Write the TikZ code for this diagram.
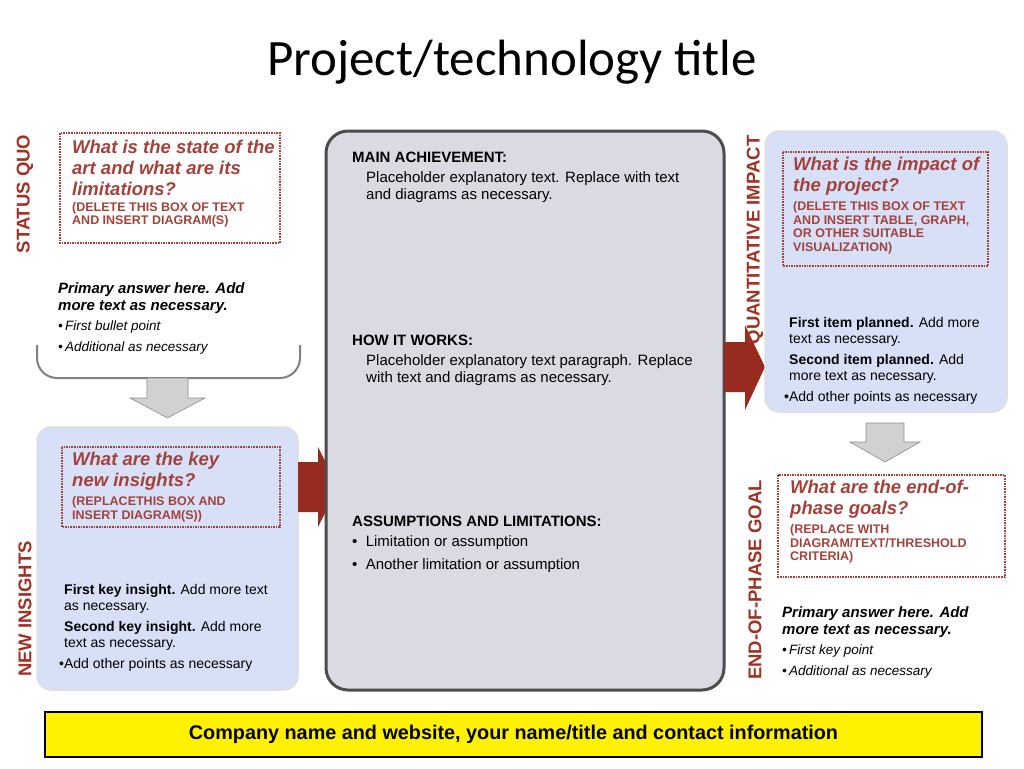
\documentclass[tikz,border=0pt]{standalone}
\usepackage{fontspec}
\setmainfont{Liberation Sans}
\newfontfamily\titlefont{Carlito}
\usetikzlibrary{positioning}
\definecolor{qred}{HTML}{A3423B}
\definecolor{lblred}{HTML}{9E3324}
\definecolor{arrred}{HTML}{972B20}
\definecolor{panelblue}{HTML}{D8E0F8}
\definecolor{panelgray}{HTML}{DADAE3}
\tikzset{
  panel/.style={draw=black!12, line width=1.5pt, fill=panelblue, rounded corners=14pt},
  qbox/.style={draw=qred, densely dotted, line width=1.6pt},
  sidelabel/.style={rotate=90, text=lblred, font=\fontsize{18.5}{20}\selectfont\bfseries},
  qtext/.style={anchor=north west, align=left, text=qred, inner sep=0pt, font=\fontsize{18.5}{21}\selectfont\bfseries\itshape},
  qnote/.style={anchor=north west, align=left, text=qred, inner sep=0pt, font=\fontsize{12.5}{13.5}\selectfont\bfseries},
  bodytext/.style={anchor=north west, align=left, inner sep=0pt, font=\fontsize{15}{17}\selectfont},
  grayarrow/.style={fill=black!18, draw=black!45, line width=0.6pt},
  redarrow/.style={fill=arrred, draw=none}
}
\begin{document}
\begin{tikzpicture}[x=1pt,y=-1pt]
  \useasboundingbox (0,0) rectangle (1024,768);

  % title
  \node[font=\titlefont\fontsize{51}{55}\selectfont] (title) at (512,62) {Project/technology title};

  % --- left column ---
  \node[sidelabel] (sq) at (25,194) {STATUS QUO};
  \draw[qbox] (60,133) rectangle (280,243);
  \node[qtext] (sqq) at (72,140) {What is the state of the\\art and what are its\\limitations?};
  \node[qnote, below=6pt of sqq.south west, anchor=north west] (sqn) {(DELETE THIS BOX OF TEXT\\AND INSERT DIAGRAM(S)};
  \draw[black!50, line width=2pt, rounded corners=20pt] (37,345) -- (37,378) -- (300,378) -- (300,345);
  \node[bodytext, font=\fontsize{15}{17}\selectfont\bfseries\itshape] (sqa) at (58,282) {Primary answer here. Add\\more text as necessary.};
  \node[bodytext, font=\fontsize{13.5}{21}\selectfont\itshape] (sqb) at (58,321) {\textbullet\,First bullet point\\\textbullet\,Additional as necessary};
  \draw[grayarrow] (147,378) -- (188,378) -- (188,398) -- (205,398) -- (167.5,418) -- (130,398) -- (147,398) -- cycle;

  \draw[panel] (37,427) rectangle (298,690);
  \node[sidelabel] (ni) at (25,609) {NEW INSIGHTS};
  \draw[qbox] (62,447) rectangle (280,527);
  \node[qtext] (niq) at (72,452) {What are the key\\new insights?};
  \node[qnote, below=6pt of niq.south west, anchor=north west] (nin) {(REPLACETHIS BOX AND\\INSERT DIAGRAM(S))};
  \node[bodytext, font=\fontsize{14}{16}\selectfont] (nib) at (64,584) {\textbf{First key insight.} Add more text\\as necessary.\\[5pt]\textbf{Second key insight.} Add more\\text as necessary.\\[5pt]\hspace*{-5pt}\textbullet Add other points as necessary};
  \draw[redarrow] (298,462) -- (318,462) -- (318,447) -- (338,487) -- (318,527) -- (318,512) -- (298,512) -- cycle;

  % --- centre ---
  \draw[draw=black!70, line width=3pt, fill=panelgray, rounded corners=22pt] (326,131) rectangle (724,690);
  \node[bodytext, font=\fontsize{15}{17}\selectfont\bfseries] (ach) at (352,152) {MAIN ACHIEVEMENT:};
  \node[bodytext, below right=8pt and 14pt of ach.south west, anchor=north west] (acht) {Placeholder explanatory text. Replace with text\\and diagrams as necessary.};
  \node[bodytext, font=\fontsize{15}{17}\selectfont\bfseries] (how) at (352,335) {HOW IT WORKS:};
  \node[bodytext, below right=8pt and 14pt of how.south west, anchor=north west] (howt) {Placeholder explanatory text paragraph. Replace\\with text and diagrams as necessary.};
  \node[bodytext, font=\fontsize{15}{17}\selectfont\bfseries] (asm) at (352,516) {ASSUMPTIONS AND LIMITATIONS:};
  \node[bodytext, font=\fontsize{15}{23}\selectfont, below=8pt of asm.south west, anchor=north west] (asmt) {\textbullet\ \ Limitation or assumption\\\textbullet\ \ Another limitation or assumption};

  % --- right column ---
  \draw[redarrow] (724,342) -- (745,342) -- (745,325) -- (765,367) -- (745,410) -- (745,392) -- (724,392) -- cycle;
  \draw[panel] (765,131) rectangle (1007,412);
  \node[sidelabel] (qi) at (755,240) {QUANTITATIVE IMPACT};
  \draw[qbox] (783,152) rectangle (988,266);
  \node[qtext] (qiq) at (793,157) {What is the impact of\\the project?};
  \node[qnote, below=6pt of qiq.south west, anchor=north west] (qin) {(DELETE THIS BOX OF TEXT\\AND INSERT TABLE, GRAPH,\\OR OTHER SUITABLE\\VISUALIZATION)};
  \node[bodytext, font=\fontsize{14}{16}\selectfont] (qib) at (789,317) {\textbf{First item planned.} Add more\\text as necessary.\\[5pt]\textbf{Second item planned.} Add\\more text as necessary.\\[5pt]\hspace*{-5pt}\textbullet Add other points as necessary};
  \draw[grayarrow] (866,423) -- (904,423) -- (904,442) -- (920,442) -- (885,462) -- (850,442) -- (866,442) -- cycle;

  \node[sidelabel] (eg) at (755,580) {END-OF-PHASE GOAL};
  \draw[qbox] (778,475) rectangle (1005,577);
  \node[qtext] (egq) at (790,480) {What are the end-of-\\phase goals?};
  \node[qnote, below=6pt of egq.south west, anchor=north west] (egn) {(REPLACE WITH\\DIAGRAM/TEXT/THRESHOLD\\CRITERIA)};
  \node[bodytext, font=\fontsize{15}{17}\selectfont\bfseries\itshape] (ega) at (782,606) {Primary answer here. Add\\more text as necessary.};
  \node[bodytext, font=\fontsize{13.5}{21}\selectfont\itshape] (egb) at (782,645) {\textbullet\,First key point\\\textbullet\,Additional as necessary};

  % footer
  \draw[fill=yellow, draw=black, line width=1.5pt] (45,712) rectangle (982,757);
  \node[font=\fontsize{19.8}{21}\selectfont\bfseries] (foot) at (513.5,734.5) {Company name and website, your name/title and contact information};
\end{tikzpicture}
\end{document}
